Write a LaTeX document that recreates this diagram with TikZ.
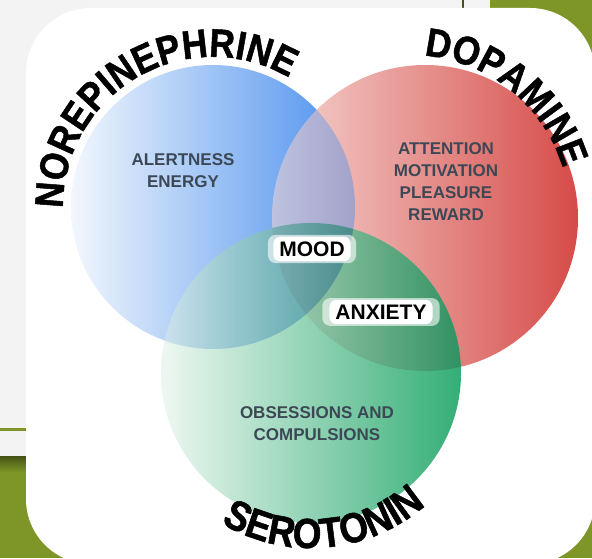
\documentclass[tikz,border=0pt]{standalone}
\usepackage{fontspec}
\setmainfont{Liberation Sans}
\newfontfamily\arcfont[FakeStretch=0.88, FakeBold=1.2]{Liberation Sans Bold}
\usetikzlibrary{calc, decorations.text, shadows}
\definecolor{slidebg}{HTML}{F3F3F3}
\definecolor{slidegreen}{HTML}{7E9528}
\definecolor{neblue}{HTML}{4A8FEE}
\definecolor{nelight}{HTML}{F2F7FD}
\definecolor{dared}{HTML}{D64B48}
\definecolor{dalight}{HTML}{F5D6D2}
\definecolor{segreen}{HTML}{34AE76}
\definecolor{selight}{HTML}{EEF8F2}
\definecolor{inktext}{HTML}{3C4855}

\begin{document}
\begin{tikzpicture}[
    x=1pt, y=1pt,
    effect/.style={align=center, text=inktext, font=\bfseries\fontsize{17}{22}\selectfont},
    tag/.style={fill=white, rounded corners=7pt, inner xsep=6pt, inner ysep=5pt,
                font=\bfseries\fontsize{21}{21}\selectfont,
                general shadow={fill=white, fill opacity=0.6, shadow scale=1.14}},
    arctitle/.style 2 args={decorate, decoration={text along path, text align=center,
                text={|\arcfont\fontsize{#1}{#1}\selectfont|#2}}}
]
    \useasboundingbox (0,0) rectangle (592,558);
    % Slide background
    \fill[slidebg] (0,0) rectangle (592,558);
    \fill[slidegreen] (490,0) rectangle (592,558);
    \fill[slidegreen] (0,0) rectangle (592,102);
    \shade[top color=slidegreen!55!black, bottom color=slidegreen] (0,86) rectangle (30,102);
    \fill[slidegreen] (0,127) rectangle (26,130);
    \draw[line width=2pt, slidegreen!55!black] (463,549) -- (463,558);
    \fill[white, rounded corners=65pt] (26,-6) rectangle (595,550);

    % Circle centres
    \coordinate (ne) at (213,351);
    \coordinate (da) at (425,340);
    \coordinate (se) at (311,185);

    % Circles
    \shade[left color=nelight, right color=neblue] (ne) circle[radius=142];
    \shade[left color=dalight, right color=dared] (da) circle[radius=153];
    \begin{scope}
        \clip (da) circle[radius=153];
        \shade[left color=nelight, right color=neblue, fill opacity=0.45] (ne) circle[radius=142];
    \end{scope}
    \shade[left color=selight, right color=segreen] (se) circle[radius=150];
    \begin{scope}
        \clip (se) circle[radius=150];
        \shade[left color=nelight, right color=neblue, fill opacity=0.5, blend mode=multiply] (ne) circle[radius=142];
        \shade[left color=dalight, right color=dared, fill opacity=0.32, blend mode=multiply] (da) circle[radius=153];
    \end{scope}

    % Names
    \path[arctitle={40}{NOREPINEPHRINE}] ($(ne)+(200:150)$) arc[start angle=200, end angle=40, radius=150];
    \path[arctitle={40}{DOPAMINE}] ($(410,343)+(131:160)$) arc[start angle=131, end angle=-29, radius=160];
    \path[arctitle={42}{SEROTONIN}] ($(se)+(195:175)$) arc[start angle=195, end angle=355, radius=175];

    % Effects
    \node[effect] (alert) at (183,387) {ALERTNESS\\ENERGY};
    \node[effect] (reward) at (446,376) {ATTENTION\\MOTIVATION\\PLEASURE\\REWARD};
    \node[effect] (obsess) at (317,134) {OBSESSIONS AND\\COMPULSIONS};
    \node[tag] (mood) at (312,309) {MOOD};
    \node[tag] (anxiety) at (381,246) {ANXIETY};
\end{tikzpicture}
\end{document}
